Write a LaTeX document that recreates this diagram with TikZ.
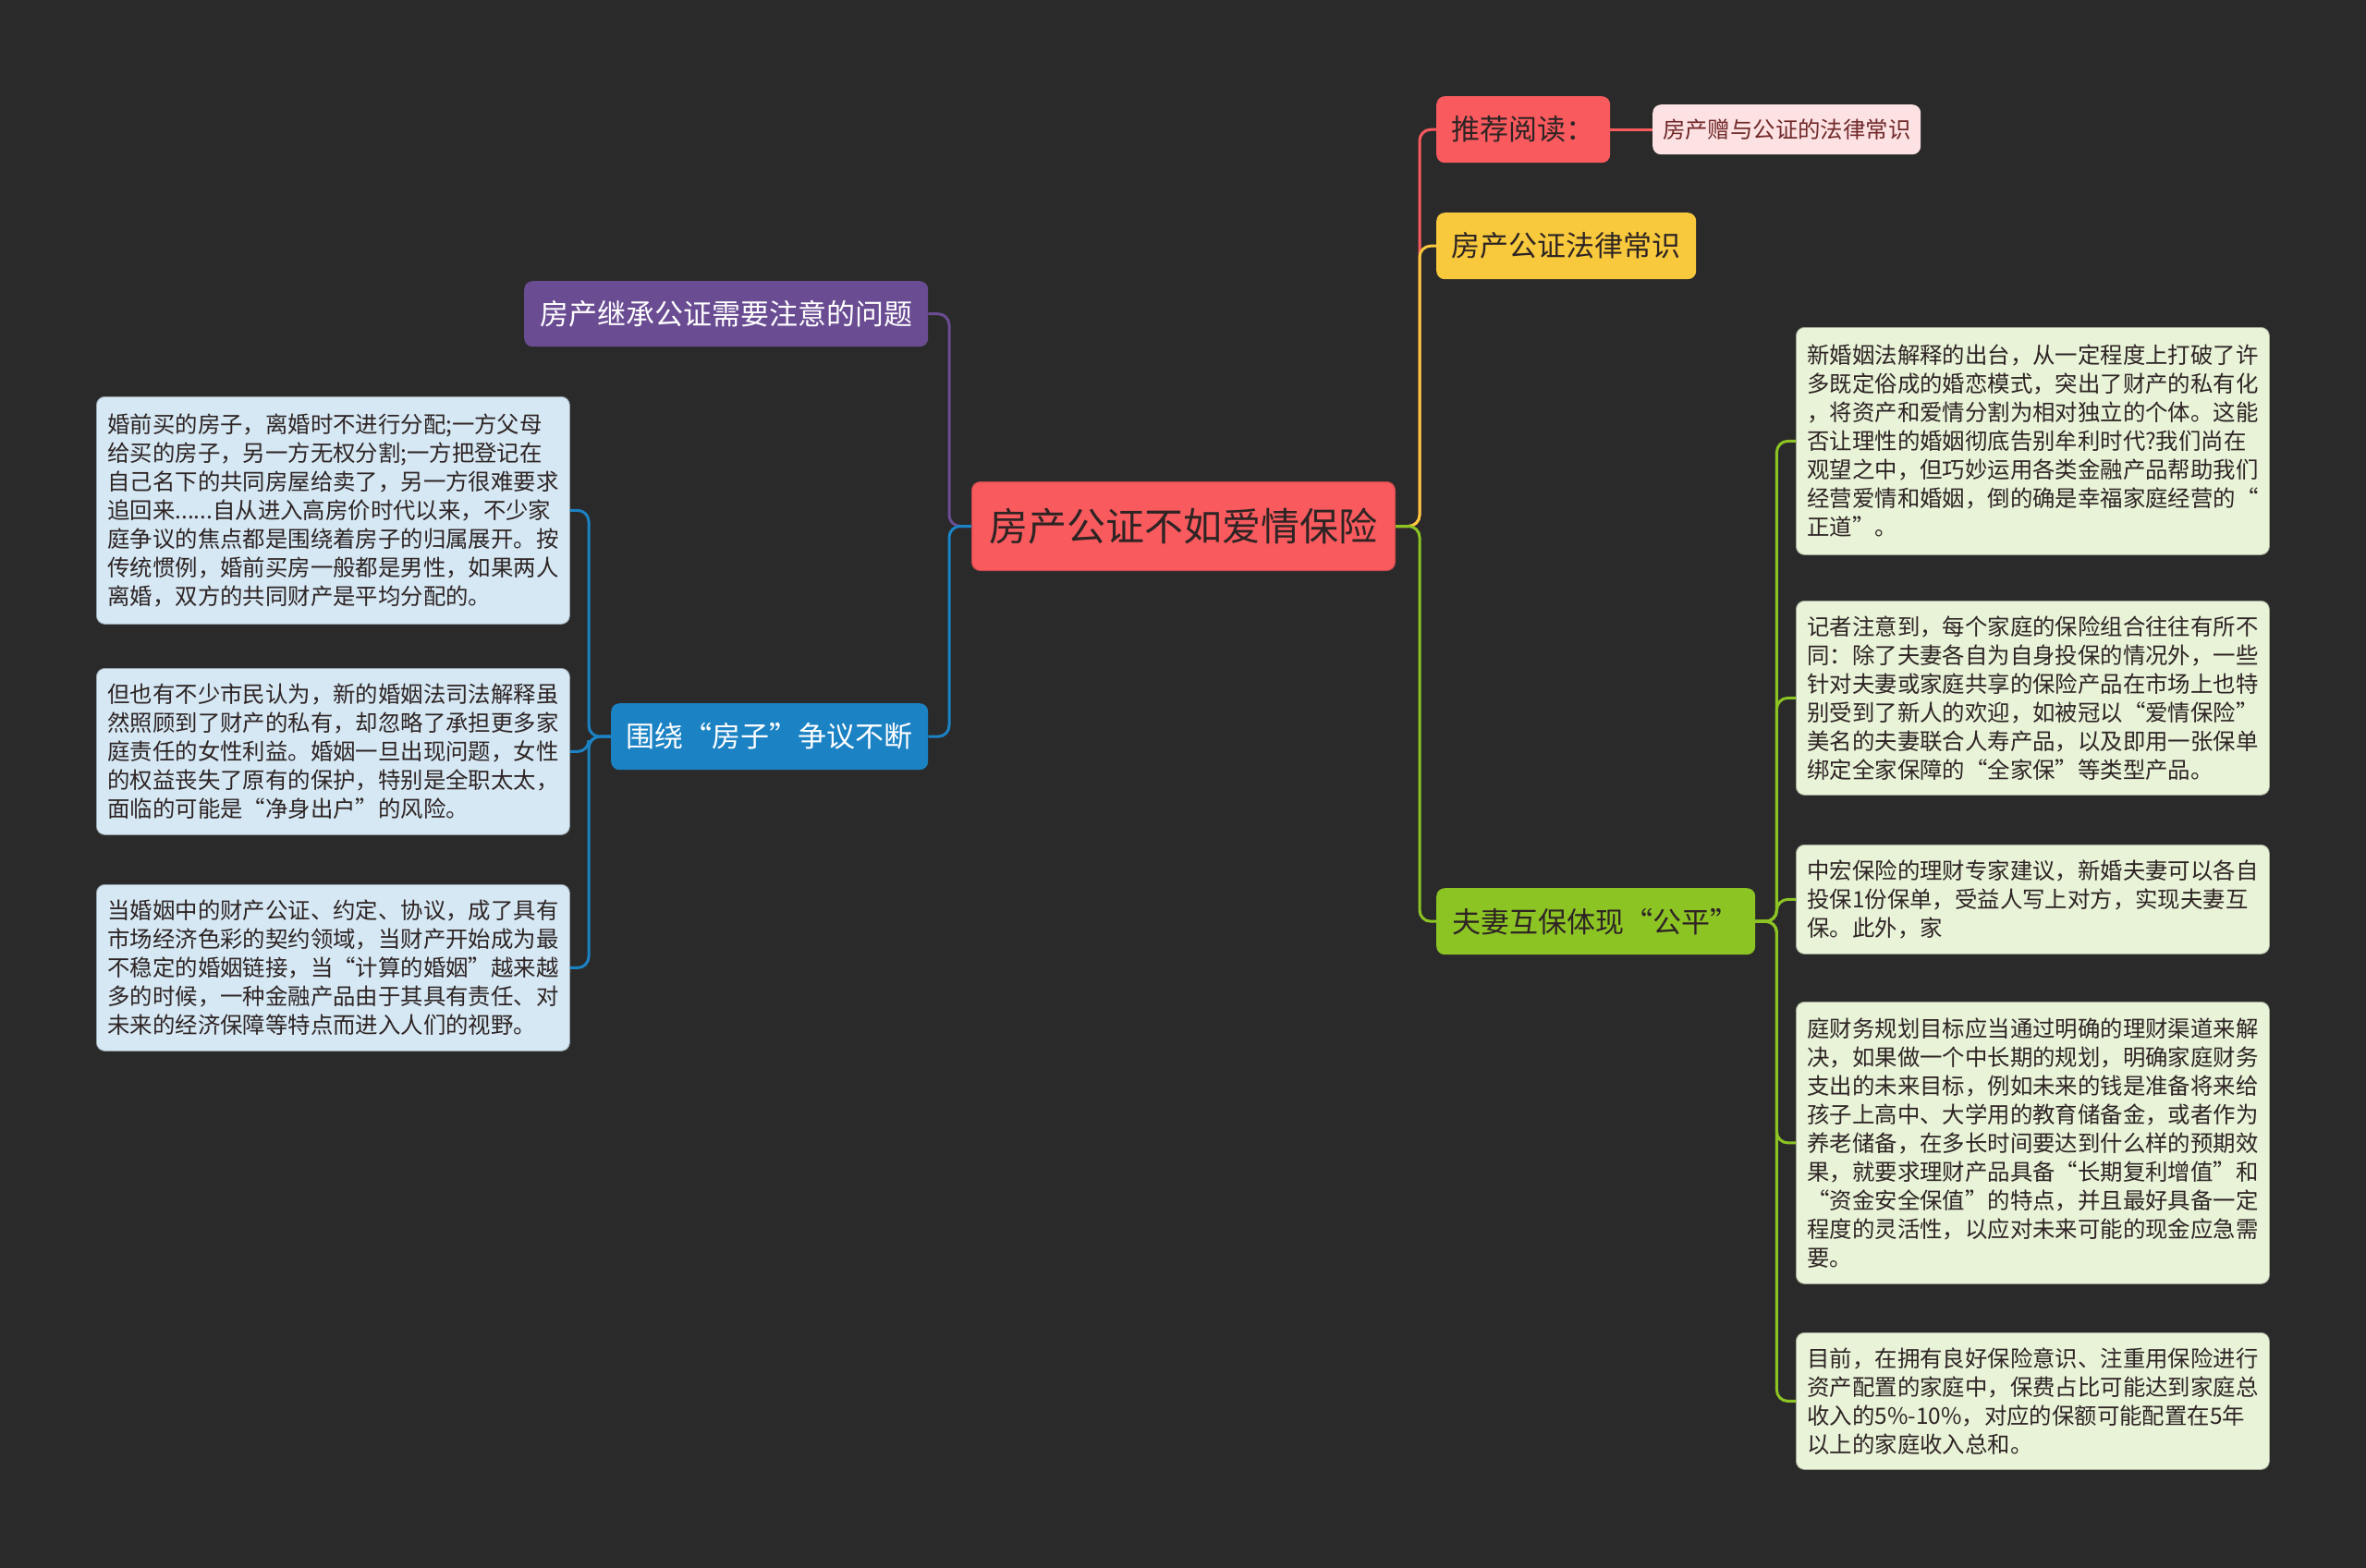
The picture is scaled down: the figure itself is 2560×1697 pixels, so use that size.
\documentclass[tikz,border=0pt]{standalone}
\usepackage{fontspec}
\setmainfont{Noto Sans CJK SC}
\definecolor{bg}{HTML}{2A2A2A}
\definecolor{cred}{HTML}{F85A5E}
\definecolor{cpurple}{HTML}{6A4C93}
\definecolor{cblue}{HTML}{1B82C4}
\definecolor{cyellow}{HTML}{F8C93C}
\definecolor{cgreen}{HTML}{8CC424}
\definecolor{cpink}{HTML}{FDE2E3}
\definecolor{lblue}{HTML}{D5E8F4}
\definecolor{lgreen}{HTML}{E8F3D8}
\definecolor{darktxt}{HTML}{2E2424}
\begin{document}
\begin{tikzpicture}[x=1pt,y=-1pt,
  box/.style={anchor=north west, rounded corners=9pt, inner sep=0pt, align=center},
  topic/.style={box, font=\fontsize{31pt}{36pt}\selectfont},
  leafL/.style={anchor=north west, rounded corners=9pt, fill=lblue, draw=lblue!70!black, line width=0.8pt,
    text width=488pt, inner xsep=12pt, inner ysep=0pt, align=left, text=darktxt,
    font=\fontsize{24.4pt}{31pt}\selectfont},
  leafR/.style={leafL, fill=lgreen, draw=lgreen!70!black},
  conn/.style={line width=3pt, rounded corners=12pt},
]
\fill[bg] (0,0) rectangle (2560,1697);
\useasboundingbox (0,0) rectangle (2560,1697);

% central
\node[box, fill=cred, draw=cred!80!black, line width=1pt, minimum width=458pt, minimum height=96pt,
  text=darktxt, font=\fontsize{42pt}{48pt}\selectfont] (c) at (1051,521) {房产公证不如爱情保险};

% left topics
\node[topic, fill=cpurple, text=white, minimum width=437pt, minimum height=71pt] (p) at (567,304) {房产继承公证需要注意的问题};
\node[topic, fill=cblue, text=white, minimum width=343pt, minimum height=72pt] (b) at (661,761) {围绕“房子”争议不断};

% right topics
\node[topic, fill=cred, text=darktxt, minimum width=188pt, minimum height=72pt] (r) at (1554,104) {推荐阅读：};
\node[box, fill=cpink, text=cred!45!black, minimum width=290pt, minimum height=54pt,
  font=\fontsize{24.4pt}{28pt}\selectfont] (pk) at (1788,113) {房产赠与公证的法律常识};
\node[topic, fill=cyellow, text=darktxt, minimum width=281pt, minimum height=72pt] (y) at (1554,230) {房产公证法律常识};
\node[topic, fill=cgreen, text=darktxt, minimum width=345pt, minimum height=72pt] (g) at (1554,961) {夫妻互保体现“公平”};

% left leaves
\node[leafL, minimum height=246pt] (l1) at (104,429) {婚前买的房子，离婚时不进行分配;一方父母\\给买的房子，另一方无权分割;一方把登记在\\自己名下的共同房屋给卖了，另一方很难要求\\追回来......自从进入高房价时代以来，不少家\\庭争议的焦点都是围绕着房子的归属展开。按\\传统惯例，婚前买房一般都是男性，如果两人\\离婚，双方的共同财产是平均分配的。};
\node[leafL, minimum height=180pt] (l2) at (104,723) {但也有不少市民认为，新的婚姻法司法解释虽\\然照顾到了财产的私有，却忽略了承担更多家\\庭责任的女性利益。婚姻一旦出现问题，女性\\的权益丧失了原有的保护，特别是全职太太，\\面临的可能是“净身出户”的风险。};
\node[leafL, minimum height=180pt] (l3) at (104,957) {当婚姻中的财产公证、约定、协议，成了具有\\市场经济色彩的契约领域，当财产开始成为最\\不稳定的婚姻链接，当“计算的婚姻”越来越\\多的时候，一种金融产品由于其具有责任、对\\未来的经济保障等特点而进入人们的视野。};

% right leaves
\node[leafR, minimum height=246pt] (r1) at (1943,354) {新婚姻法解释的出台，从一定程度上打破了许\\多既定俗成的婚恋模式，突出了财产的私有化\\，将资产和爱情分割为相对独立的个体。这能\\否让理性的婚姻彻底告别牟利时代?我们尚在\\观望之中，但巧妙运用各类金融产品帮助我们\\经营爱情和婚姻，倒的确是幸福家庭经营的“\\正道”。};
\node[leafR, minimum height=210pt] (r2) at (1943,650) {记者注意到，每个家庭的保险组合往往有所不\\同：除了夫妻各自为自身投保的情况外，一些\\针对夫妻或家庭共享的保险产品在市场上也特\\别受到了新人的欢迎，如被冠以“爱情保险”\\美名的夫妻联合人寿产品，以及即用一张保单\\绑定全家保障的“全家保”等类型产品。};
\node[leafR, minimum height=118pt] (r3) at (1943,914) {中宏保险的理财专家建议，新婚夫妻可以各自\\投保1份保单，受益人写上对方，实现夫妻互\\保。此外，家};
\node[leafR, minimum height=305pt] (r4) at (1943,1084) {庭财务规划目标应当通过明确的理财渠道来解\\决，如果做一个中长期的规划，明确家庭财务\\支出的未来目标，例如未来的钱是准备将来给\\孩子上高中、大学用的教育储备金，或者作为\\养老储备，在多长时间要达到什么样的预期效\\果，就要求理财产品具备“长期复利增值”和\\“资金安全保值”的特点，并且最好具备一定\\程度的灵活性，以应对未来可能的现金应急需\\要。};
\node[leafR, minimum height=148pt] (r5) at (1943,1442) {目前，在拥有良好保险意识、注重用保险进行\\资产配置的家庭中，保费占比可能达到家庭总\\收入的5\%-10\%，对应的保额可能配置在5年\\以上的家庭收入总和。};

% connectors (left)
\begin{scope}[on background layer/.style={}]
\draw[conn, cpurple] (c.west) -- ++(-24,0) |- (p.east);
\draw[conn, cblue] (c.west) -- ++(-24,0) |- (b.east);
\foreach \n in {l1,l2,l3} \draw[conn, cblue] (b.west) -- ++(-24,0) |- (\n.east);
% right
\draw[conn, cred] (c.east) -- ++(26,0) |- (r.west);
\draw[conn, cyellow] (c.east) -- ++(26,0) |- (y.west);
\draw[conn, cgreen] (c.east) -- ++(26,0) |- (g.west);
\draw[conn, cred] (r.east) -- (pk.west);
\foreach \n in {r1,r2,r3,r4,r5} \draw[conn, cgreen] (g.east) -- ++(23,0) |- (\n.west);
\end{scope}
\end{tikzpicture}
\end{document}
